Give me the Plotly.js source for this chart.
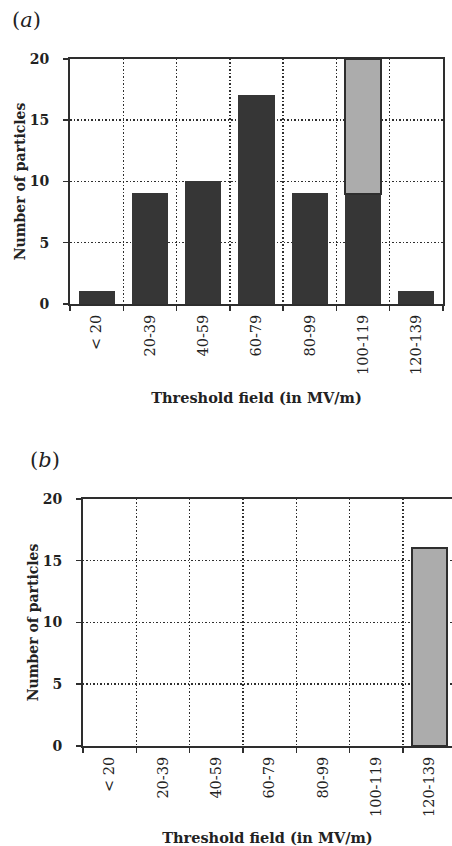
<!DOCTYPE html>
<html>
<head>
<meta charset="utf-8">
<script src="https://cdn.plot.ly/plotly-3.0.1.min.js"></script>
<style>html,body{margin:0;padding:0;background:#fff;}#chart{width:452px;height:846px;}</style>
</head>
<body>
<div id="chart"></div>
<script>
const categories = ['< 20', '20-39', '40-59', '60-79', '80-99', '100-119', '120-139'];
const countsA = [1, 9, 10, 17, 9, 9, 1];
const extraA = [null, null, null, null, null, 11, null];
const countsB = [null, null, null, null, null, null, 16];
const yTicks = [0, 5, 10, 15, 20];

const ink = '#2e2e2e';
const darkFill = '#363636';
const lightFill = '#b4b4b4';
const serif = 'DejaVu Serif';
const stipple = {shape: '.', fgcolor: '#999999', bgcolor: '#bcbcbc', size: 2, solidity: 0.5};

const traces = [
  {type: 'bar', x: categories, y: countsA, xaxis: 'x', yaxis: 'y',
   marker: {color: darkFill, line: {color: darkFill, width: 1}}, hoverinfo: 'x+y'},
  {type: 'bar', x: categories, y: extraA, xaxis: 'x', yaxis: 'y',
   marker: {color: lightFill, pattern: stipple, line: {color: ink, width: 2}}, hoverinfo: 'x+y'},
  {type: 'bar', x: categories, y: countsB, xaxis: 'x2', yaxis: 'y2',
   marker: {color: lightFill, pattern: stipple, line: {color: ink, width: 2}}, hoverinfo: 'x+y'}
];

function xAxis(domain, anchor, range) {
  const ax = {
    domain: domain, anchor: anchor, type: 'category',
    categoryorder: 'array', categoryarray: categories,
    tickson: 'boundaries', showgrid: true, gridcolor: ink, griddash: '1.5px,2px', gridwidth: 1.5,
    showline: true, linecolor: ink, linewidth: 2, mirror: true,
    ticks: 'outside', ticklen: 5, tickcolor: ink, tickwidth: 1.5,
    tickangle: -90, tickfont: {family: serif, size: 14.5, color: '#222'},
    ticklabelstandoff: 3,
    title: {text: 'Threshold field (in MV/m)', standoff: 19,
            font: {family: serif, size: 14.5, color: '#222', weight: 'bold'}},
    automargin: false, fixedrange: true
  };
  if (range) ax.range = range;
  return ax;
}
function yAxis(domain, anchor) {
  return {
    domain: domain, anchor: anchor, range: [0, 20], tickvals: yTicks,
    showgrid: true, gridcolor: ink, griddash: '1.5px,2px', gridwidth: 1.5, zeroline: false,
    showline: true, linecolor: ink, linewidth: 2, mirror: true,
    ticks: 'outside', ticklen: 5, tickcolor: ink, tickwidth: 1.5,
    tickfont: {family: serif, size: 14, color: '#222', weight: 'bold'},
    ticklabelstandoff: 11,
    title: {text: 'Number of particles', standoff: 1,
            font: {family: serif, size: 14, color: '#222', weight: 'bold'}},
    automargin: false, fixedrange: true
  };
}

const layout = {
  width: 452, height: 846,
  margin: {l: 0, r: 0, t: 0, b: 0},
  paper_bgcolor: '#fff', plot_bgcolor: '#fff',
  showlegend: false, barmode: 'stack', bargap: 0.34,
  xaxis: xAxis([0.1549, 0.9801], 'y'),
  yaxis: yAxis([0.6407, 0.9303], 'x'),
  xaxis2: xAxis([0.1836, 1], 'y2', [-0.5, 6.42]),
  yaxis2: yAxis([0.1182, 0.4102], 'x2'),
  annotations: [
    {text: '(<i>a</i>)', xref: 'paper', yref: 'paper', x: 10 / 452, y: 1 - 20 / 846,
     xanchor: 'left', yanchor: 'middle', showarrow: false,
     font: {family: serif, size: 21, color: '#222'}},
    {text: '(<i>b</i>)', xref: 'paper', yref: 'paper', x: 28 / 452, y: 1 - 460 / 846,
     xanchor: 'left', yanchor: 'middle', showarrow: false,
     font: {family: serif, size: 21, color: '#222'}}
  ]
};

Plotly.newPlot('chart', traces, layout, {displayModeBar: false, staticPlot: true});
</script>
</body>
</html>
